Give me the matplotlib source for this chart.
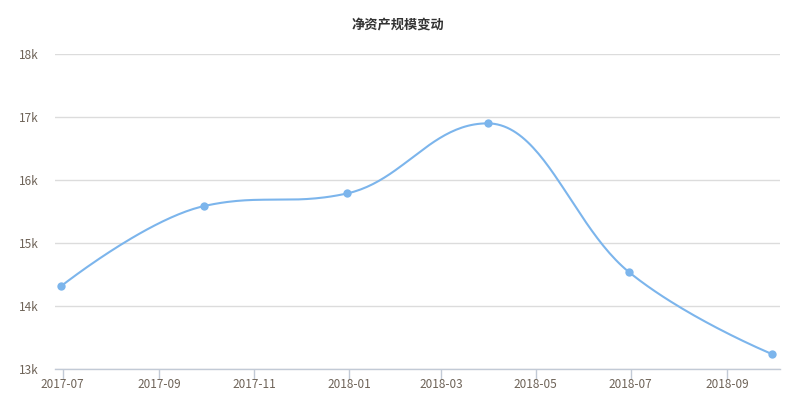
import numpy as np
import matplotlib
matplotlib.use("Agg")
import matplotlib.dates as mdates
from matplotlib import pyplot as plt

# data
dates = ["2017-06-30", "2017-09-30", "2017-12-31", "2018-03-31", "2018-06-30", "2018-09-30"]
values = [14320, 15590, 15790, 16900, 14540, 13240]
y_ticks = [13000, 14000, 15000, 16000, 17000, 18000]
x_ticks = ["2017-07", "2017-09", "2017-11", "2018-01", "2018-03", "2018-05", "2018-07", "2018-09"]
title = "净资产规模变动"

plt.rcParams['font.family'] = ['Noto Sans CJK SC', 'DejaVu Sans']

line_color = '#7cb5ec'
text_color = '#6e6358'

W, H = 795, 407
fig = plt.figure(figsize=(W / 100, H / 100), dpi=100)
fig.patch.set_facecolor('white')
ax = fig.add_axes([55 / W, (H - 369.3) / H, (780 - 55) / W, (369.3 - 54) / H])

xd = mdates.datestr2num(dates)
ax.set_xlim(mdates.datestr2num("2017-06-26"), mdates.datestr2num("2018-10-05"))
ax.set_ylim(13000, 18000)


def spline_path(pts, smoothing=1.5):
    # spline in pixel space: control points at 1/(smoothing+1) of each gap,
    # pulled back so they never create false extremes
    n = len(pts)
    denom = smoothing + 1
    left = pts.copy()
    right = pts.copy()
    for i in range(1, n - 1):
        (lx, ly), (x, y), (nx, ny) = pts[i - 1], pts[i], pts[i + 1]
        lcx = (smoothing * x + lx) / denom
        lcy = (smoothing * y + ly) / denom
        rcx = (smoothing * x + nx) / denom
        rcy = (smoothing * y + ny) / denom
        corr = (rcy - lcy) * (rcx - x) / (rcx - lcx) + y - rcy
        lcy += corr
        rcy += corr
        if lcy > ly and lcy > y:
            lcy = max(ly, y)
            rcy = 2 * y - lcy
        elif lcy < ly and lcy < y:
            lcy = min(ly, y)
            rcy = 2 * y - lcy
        if rcy > ny and rcy > y:
            rcy = max(ny, y)
            lcy = 2 * y - rcy
        elif rcy < ny and rcy < y:
            rcy = min(ny, y)
            lcy = 2 * y - rcy
        left[i] = (lcx, lcy)
        right[i] = (rcx, rcy)
    t = np.linspace(0, 1, 50)[1:, None]
    out = [pts[0]]
    for i in range(1, n):
        p0, c0, c1, p1 = pts[i - 1], right[i - 1], left[i], pts[i]
        seg = ((1 - t) ** 3) * p0 + 3 * ((1 - t) ** 2) * t * c0 \
            + 3 * (1 - t) * t ** 2 * c1 + t ** 3 * p1
        out.extend(seg)
    return np.array(out)


disp = ax.transData.transform(np.column_stack([xd, values]))
curve = ax.transData.inverted().transform(spline_path(disp))

ax.plot(curve[:, 0], curve[:, 1], color=line_color, lw=1.5, solid_capstyle='round', zorder=3)
ax.plot(xd, values, 'o', color=line_color, ms=6, mew=0, zorder=4)

ax.set_yticks(y_ticks)
ax.set_yticklabels([f"{v // 1000}k" for v in y_ticks])
ax.set_xticks(mdates.datestr2num([d + "-01" for d in x_ticks]))
ax.set_xticklabels(x_ticks)

ax.grid(axis='y', color='#dcdcdc', lw=1)
ax.set_axisbelow(True)
for s in ['top', 'right', 'left']:
    ax.spines[s].set_visible(False)
ax.spines['bottom'].set_color('#c2cad6')
ax.spines['bottom'].set_linewidth(1)
ax.tick_params(axis='y', length=0, pad=12, labelsize=8.5, labelcolor=text_color)
ax.tick_params(axis='x', length=7, width=1, color='#c2cad6', pad=-1, labelsize=8.5, labelcolor=text_color)

fig.text(0.5, 1 - 25 / H, title, ha='center', va='center', fontsize=9.5,
         fontweight='bold', color='#333333')

fig.savefig("out.png", dpi=100)
